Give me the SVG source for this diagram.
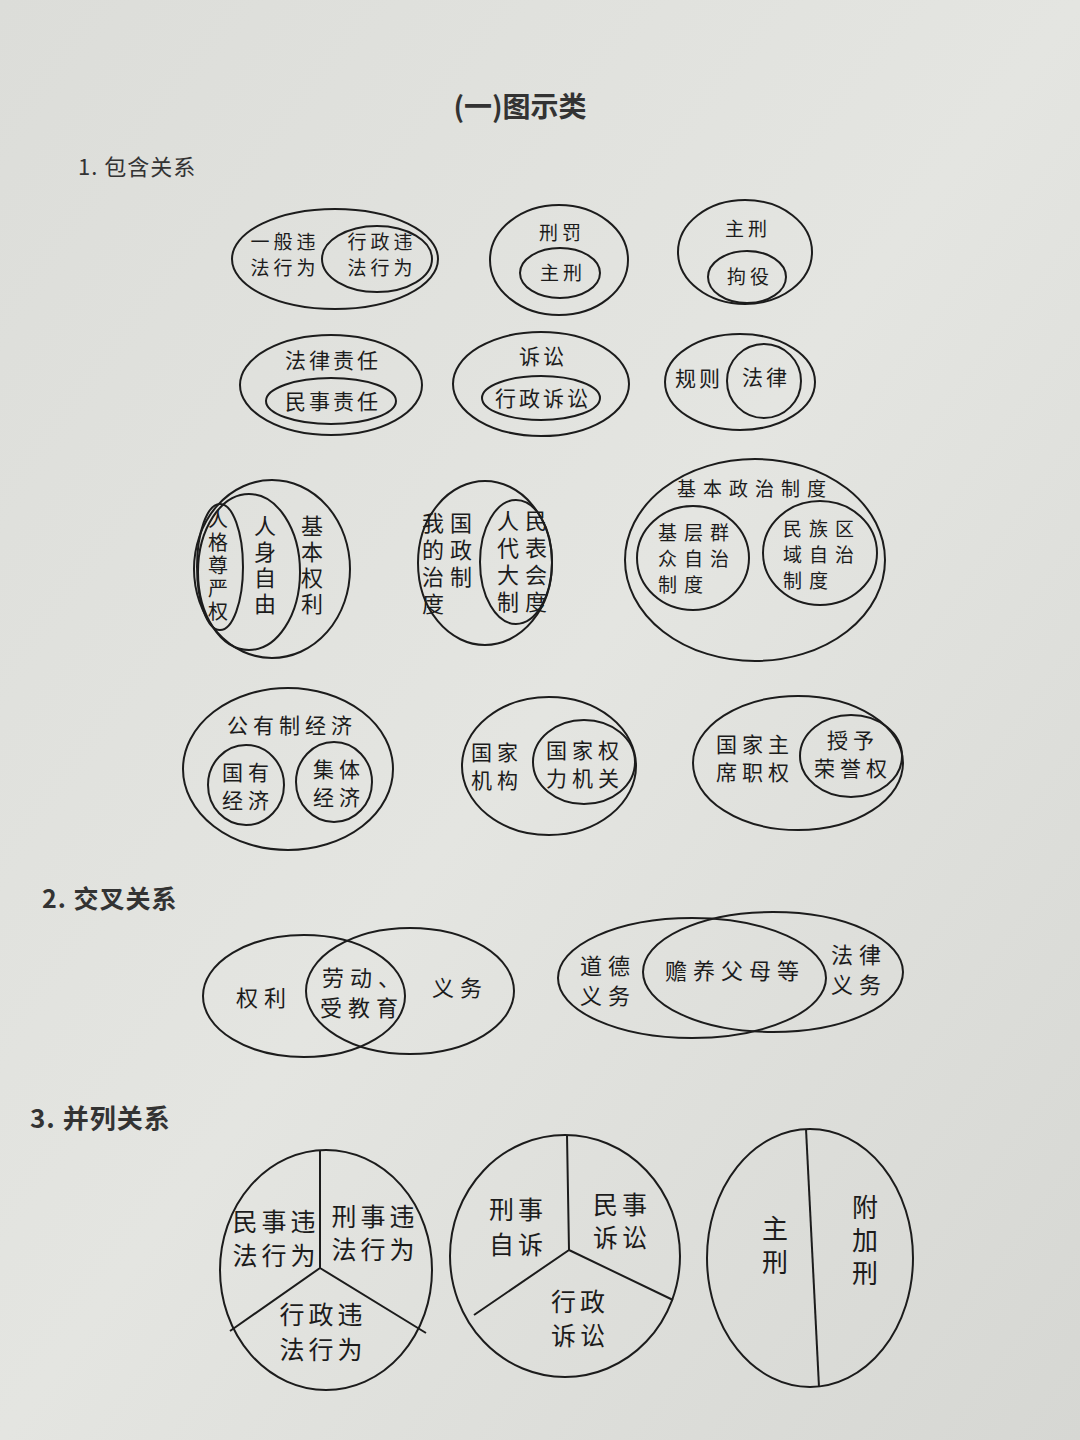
<svg xmlns="http://www.w3.org/2000/svg" width="1080" height="1440" viewBox="0 0 1080 1440">
<defs>
<linearGradient id="bg" x1="0" y1="0" x2="1" y2="1">
<stop offset="0" stop-color="#dcddd9"/>
<stop offset="0.5" stop-color="#e4e5e1"/>
<stop offset="1" stop-color="#d6d7d3"/>
</linearGradient>
<style>
.s{fill:none;stroke:#1c1c1c;stroke-width:2}
.t{font-family:"Noto Sans CJK SC","Noto Sans",sans-serif;fill:#1c1c1c;text-anchor:middle}
.r1{font-size:19px;letter-spacing:4px}
.r2{font-size:21px;letter-spacing:3px}
.r3{font-size:19px;letter-spacing:7px}
.r4{font-size:21px;letter-spacing:5px}
.r5{font-size:22px;letter-spacing:6px}
.r6{font-size:25px;letter-spacing:4px}
.v{writing-mode:vertical-rl}
.h{font-family:"Noto Sans CJK SC","Noto Sans",sans-serif;fill:#333}
</style>
</defs>
<rect width="1080" height="1440" fill="url(#bg)"/>
<text class="h" x="520" y="117" font-size="28" font-weight="bold" text-anchor="middle">(一)图示类</text>
<text class="h" x="78" y="175" font-size="22" letter-spacing="1">1. 包含关系</text>
<text class="h" x="42" y="908" font-size="25" font-weight="bold" letter-spacing="1">2. 交叉关系</text>
<text class="h" x="30" y="1128" font-size="26" font-weight="bold" letter-spacing="1">3. 并列关系</text>

<g id="n1">
<ellipse class="s" cx="335" cy="259" rx="103" ry="50"/>
<ellipse class="s" cx="377" cy="259" rx="55" ry="33"/>
<text class="t r1"><tspan x="285" y="249">一般违</tspan><tspan x="285" y="275">法行为</tspan></text>
<text class="t r1"><tspan x="382" y="249">行政违</tspan><tspan x="382" y="275">法行为</tspan></text>
</g>
<g id="n2">
<ellipse class="s" cx="559" cy="260" rx="69" ry="55"/>
<ellipse class="s" cx="560" cy="273" rx="40" ry="25"/>
<text class="t r1" x="562" y="240">刑罚</text>
<text class="t r1" x="563" y="280">主刑</text>
</g>
<g id="n3">
<ellipse class="s" cx="745" cy="252" rx="67" ry="52"/>
<ellipse class="s" cx="747" cy="277" rx="39" ry="26"/>
<text class="t r1" x="748" y="236">主刑</text>
<text class="t r1" x="750" y="284">拘役</text>
</g>

<g id="n4">
<ellipse class="s" cx="331" cy="385" rx="91" ry="50"/>
<ellipse class="s" cx="331" cy="401" rx="65" ry="23"/>
<text class="t r2" x="333" y="368">法律责任</text>
<text class="t r2" x="333" y="409">民事责任</text>
</g>
<g id="n5">
<ellipse class="s" cx="541" cy="384" rx="88" ry="52"/>
<ellipse class="s" cx="541" cy="398" rx="59" ry="22"/>
<text class="t r2" x="543" y="364">诉讼</text>
<text class="t r2" x="543" y="406">行政诉讼</text>
</g>
<g id="n6">
<ellipse class="s" cx="740" cy="382" rx="75" ry="48"/>
<circle class="s" cx="764" cy="381" r="37"/>
<text class="t r2" x="699" y="386">规则</text>
<text class="t r2" x="766" y="385">法律</text>
</g>

<g id="n7">
<ellipse class="s" cx="272" cy="569" rx="78" ry="89"/>
<ellipse class="s" cx="249" cy="572" rx="51" ry="78"/>
<ellipse class="s" cx="220" cy="567" rx="23" ry="63"/>
<text class="t v" x="218" y="567" font-size="20" letter-spacing="3">人格尊严权</text>
<text class="t v" x="265" y="567" font-size="22" letter-spacing="4">人身自由</text>
<text class="t v" x="312" y="567" font-size="22" letter-spacing="4">基本权利</text>
</g>
<g id="n8">
<ellipse class="s" cx="485" cy="563" rx="67" ry="82"/>
<ellipse class="s" cx="516" cy="562" rx="36" ry="62"/>
<text class="t v" x="433" y="566" font-size="22" letter-spacing="5">我的治度</text>
<text class="t v" x="461" y="552" font-size="22" letter-spacing="5">国政制</text>
<text class="t v" x="508" y="564" font-size="22" letter-spacing="5">人代大制</text>
<text class="t v" x="536" y="564" font-size="22" letter-spacing="5">民表会度</text>
</g>
<g id="n9">
<ellipse class="s" cx="755" cy="560" rx="130" ry="101"/>
<ellipse class="s" cx="693" cy="558" rx="56" ry="52"/>
<ellipse class="s" cx="820" cy="553" rx="57" ry="52"/>
<text class="t r3" x="755" y="496">基本政治制度</text>
<text class="t r3"><tspan x="697" y="540">基层群</tspan><tspan x="697" y="566">众自治</tspan><tspan x="684" y="592">制度</tspan></text>
<text class="t r3"><tspan x="822" y="536">民族区</tspan><tspan x="822" y="562">域自治</tspan><tspan x="809" y="588">制度</tspan></text>
</g>

<g id="n10">
<ellipse class="s" cx="288" cy="769" rx="105" ry="81"/>
<ellipse class="s" cx="246" cy="785" rx="38" ry="40"/>
<ellipse class="s" cx="334" cy="782" rx="38" ry="40"/>
<text class="t r4" x="292" y="733">公有制经济</text>
<text class="t r4"><tspan x="248" y="780">国有</tspan><tspan x="248" y="808">经济</tspan></text>
<text class="t r4"><tspan x="339" y="777">集体</tspan><tspan x="339" y="805">经济</tspan></text>
</g>
<g id="n11">
<ellipse class="s" cx="549" cy="766" rx="87" ry="69"/>
<ellipse class="s" cx="584" cy="762" rx="51" ry="42"/>
<text class="t r4"><tspan x="497" y="760">国家</tspan><tspan x="497" y="788">机构</tspan></text>
<text class="t r4"><tspan x="585" y="758">国家权</tspan><tspan x="585" y="786">力机关</tspan></text>
</g>
<g id="n12">
<ellipse class="s" cx="798" cy="763" rx="105" ry="67"/>
<ellipse class="s" cx="851" cy="756" rx="51" ry="41"/>
<text class="t r4"><tspan x="755" y="752">国家主</tspan><tspan x="755" y="780">席职权</tspan></text>
<text class="t r4"><tspan x="853" y="748">授予</tspan><tspan x="853" y="776">荣誉权</tspan></text>
</g>

<g id="n13">
<ellipse class="s" cx="304" cy="996" rx="101" ry="61"/>
<ellipse class="s" cx="410" cy="991" rx="104" ry="63"/>
<text class="t r5" x="264" y="1006">权利</text>
<text class="t r5"><tspan x="364" y="986">劳动、</tspan><tspan x="362" y="1016">受教育</tspan></text>
<text class="t r5" x="460" y="996">义务</text>
</g>
<g id="n14">
<ellipse class="s" cx="692" cy="978" rx="134" ry="60"/>
<ellipse class="s" cx="773" cy="972" rx="130" ry="60"/>
<text class="t r5"><tspan x="608" y="974">道德</tspan><tspan x="608" y="1004">义务</tspan></text>
<text class="t r5" x="735" y="979">赡养父母等</text>
<text class="t r5"><tspan x="859" y="963">法律</tspan><tspan x="859" y="993">义务</tspan></text>
</g>

<g id="n15">
<ellipse class="s" cx="326" cy="1270" rx="106" ry="120"/>
<path class="s" d="M320 1150 L320 1268 L230 1331 M320 1268 L426 1333"/>
<text class="t r6"><tspan x="276" y="1231">民事违</tspan><tspan x="276" y="1265">法行为</tspan></text>
<text class="t r6"><tspan x="375" y="1226">刑事违</tspan><tspan x="375" y="1259">法行为</tspan></text>
<text class="t r6"><tspan x="323" y="1324">行政违</tspan><tspan x="323" y="1359">法行为</tspan></text>
</g>
<g id="n16">
<ellipse class="s" cx="565" cy="1256" rx="115" ry="121"/>
<path class="s" d="M567 1135 L569 1250 L474 1315 M569 1250 L673 1300"/>
<text class="t r6"><tspan x="518" y="1219">刑事</tspan><tspan x="518" y="1254">自诉</tspan></text>
<text class="t r6"><tspan x="622" y="1214">民事</tspan><tspan x="622" y="1247">诉讼</tspan></text>
<text class="t r6"><tspan x="580" y="1311">行政</tspan><tspan x="580" y="1345">诉讼</tspan></text>
</g>
<g id="n17">
<ellipse class="s" cx="810" cy="1258" rx="103" ry="129"/>
<path class="s" d="M806 1129 L819 1387"/>
<text class="t v" x="775" y="1249" font-size="26" letter-spacing="8">主刑</text>
<text class="t v" x="865" y="1244" font-size="26" letter-spacing="7">附加刑</text>
</g>
<g id="connectors"></g>
</svg>
